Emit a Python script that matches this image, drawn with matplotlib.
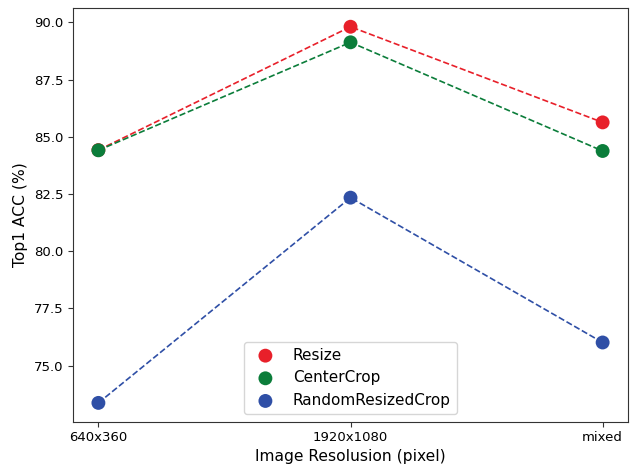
import matplotlib
matplotlib.use("Agg")
import matplotlib.pyplot as plt

categories = ["640x360", "1920x1080", "mixed"]
resize = [84.42, 89.81, 85.63]
centercrop = [84.41, 89.13, 84.38]
rrc = [73.37, 82.34, 76.01]

series = [("Resize", resize, "#e8202a"),
          ("CenterCrop", centercrop, "#0b7d3a"),
          ("RandomResizedCrop", rrc, "#2f4fa6")]

fig, ax = plt.subplots(figsize=(6.31, 4.67), dpi=100)
x = list(range(len(categories)))
for name, vals, col in series:
    ax.plot(x, vals, linestyle="--", color=col, linewidth=1.2, zorder=2)
    ax.scatter(x, vals, s=100, color=col, label=name, zorder=3, edgecolors="none")

ax.set_xticks(x)
ax.set_xticklabels(categories)
ax.set_xlabel("Image Resolusion (pixel)", fontsize=11.2, labelpad=3)
ax.set_ylabel("Top1 ACC (%)", fontsize=11.2)
ax.tick_params(labelsize=9.5, color="#333333")
for s in ax.spines.values():
    s.set_color("#333333")
ax.legend(loc="lower center", fontsize=11, handletextpad=0.8)
fig.subplots_adjust(left=0.116, right=0.995, top=0.983, bottom=0.097)
fig.savefig("out.png", dpi=100)
